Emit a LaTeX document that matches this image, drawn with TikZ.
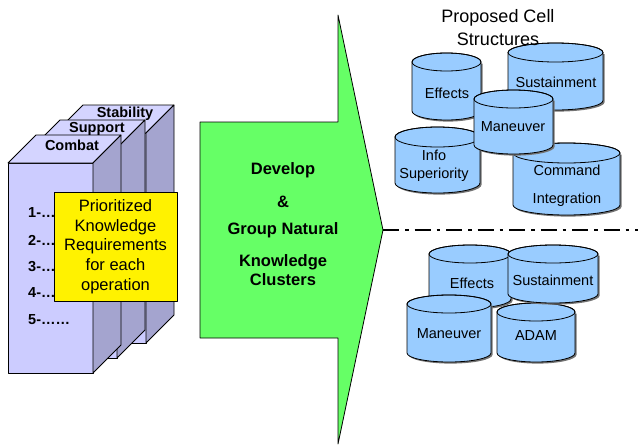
\documentclass[tikz,border=0pt]{standalone}
\usepackage{fontspec}
\setmainfont{Liberation Sans}
\definecolor{slabfront}{HTML}{CCCCFF}
\definecolor{slabtop}{HTML}{D4D4FF}
\definecolor{slabside}{HTML}{A4A4CF}
\definecolor{arrowgreen}{HTML}{66FF66}
\definecolor{drumblue}{HTML}{99CCFF}
\tikzset{
  outline/.style={draw=black, line width=0.8pt, line join=round},
  slablabel/.style={font=\fontsize{14.5}{16}\selectfont\bfseries, inner sep=0pt},
  itemlabel/.style={font=\fontsize{14.5}{16}\selectfont\bfseries, inner sep=0pt, anchor=west},
  greentext/.style={font=\fontsize{16.5}{19}\selectfont\bfseries, align=center, inner sep=0pt},
  drumtext/.style={font=\fontsize{14.5}{17}\selectfont, align=center, inner sep=0pt},
  drumbody/.style={outline, fill=drumblue},
  drumshadow/.style={fill=black!55},
}
% a stacked 3D slab: left, right, top, bottom of the front face
\newcommand{\slab}[4]{%
  \filldraw[outline, fill=slabfront] (#1,#3) rectangle (#2,#4);
  \filldraw[outline, fill=slabtop] (#1,#3) -- ++(28,-28) -- (#2+28,#3-28) -- (#2,#3) -- cycle;
  \filldraw[outline, fill=slabside] (#2,#3) -- ++(28,-28) -- (#2+28,#4-28) -- (#2,#4) -- cycle;
}
% a drum (cylinder): left, right, top, bottom, vertical half-axis of the ellipses
\newcommand{\drum}[5]{%
  \pgfmathsetmacro\drx{(#2-#1)/2}%
  \pgfmathsetmacro\dcx{(#1+#2)/2}%
  \pgfmathsetmacro\dyt{#3+#5}%
  \pgfmathsetmacro\dyb{#4-#5}%
  \fill[drumshadow, shift={(1.6,1.6)}] (#1,\dyt) -- (#1,\dyb)
     arc[start angle=180, end angle=360, x radius=\drx pt, y radius=#5pt] -- (#2,\dyt) -- cycle;
  \filldraw[drumbody] (#1,\dyt) -- (#1,\dyb)
     arc[start angle=180, end angle=360, x radius=\drx pt, y radius=#5pt] -- (#2,\dyt)
     arc[start angle=0, end angle=180, x radius=\drx pt, y radius=#5pt] -- cycle;
  \draw[outline] (\dcx,\dyt) ellipse[x radius=\drx pt, y radius=#5pt];
}
\begin{document}
\begin{tikzpicture}[x=1pt, y=-1pt]
\useasboundingbox (0,0) rectangle (638,445);

% operation slabs, back to front
\slab{55}{146}{133}{343}
\node[slablabel] (stability) at (125,114) {Stability};
\slab{32}{117}{148}{358}
\node[slablabel] (support) at (97,129) {Support};
\slab{8}{93}{163}{373}
\node[slablabel] (combat) at (72,145) {Combat};

\node[itemlabel] (i1) at (28,213) {1-…};
\node[itemlabel] (i2) at (28,240) {2-…};
\node[itemlabel] (i3) at (28,267) {3-…};
\node[itemlabel] (i4) at (28,293) {4-…};
\node[itemlabel] (i5) at (28,320) {5-……};

\node[outline, fill=yellow, minimum width=123pt, minimum height=109pt, inner sep=0pt,
      align=center, font=\fontsize{16.5}{19.7}\selectfont] (prio) at (115.5,246.5)
  {Prioritized\\Knowledge\\Requirements\\for each\\operation};

% process arrow
\filldraw[outline, fill=arrowgreen] (200,122) -- (338,122) -- (338,15) -- (383,230)
  -- (338,444) -- (338,338) -- (200,338) -- cycle;
\coordinate (tip) at (383,230);
\coordinate (edge) at (638,230);
\node[greentext] (develop) at (283,170) {Develop};
\node[greentext] (amp) at (283,202) {\&};
\node[greentext] (group) at (283,230) {Group Natural};
\node[greentext] (clusters) at (283,270.5) {Knowledge\\Clusters};

% divider
\draw[line width=2.6pt, dash pattern=on 16pt off 6pt on 3.5pt off 6pt] (tip) -- (edge);

% proposed cells, upper group
\drum{412}{481}{53}{120}{9}
\node[drumtext] (effA) at (447,93) {Effects};
\drum{508}{603}{43}{110}{9.5}
\node[drumtext] (susA) at (556,82) {Sustainment};
\drum{395}{480}{127}{193}{10}
\node[drumtext, font=\fontsize{14.5}{18}\selectfont] (infoA) at (434,166) {Info\\Superiority};
\drum{513}{620}{143}{215}{10}
\node[drumtext, font=\fontsize{14.5}{28}\selectfont] (cmdA) at (567,186) {Command\\Integration};
\drum{474}{553}{90}{154}{9}
\node[drumtext] (manA) at (513,127) {Maneuver};

\node[align=center, inner sep=0pt, font=\fontsize{18}{23}\selectfont] (title) at (498,27.5)
  {Proposed Cell\\Structures};

% proposed cells, lower group
\drum{429}{511}{245}{308}{9}
\node[drumtext] (effB) at (472,283) {Effects};
\drum{497}{575}{303}{362}{9}
\node[drumtext] (adamB) at (536,336) {ADAM};
\drum{508}{598}{245}{303}{9}
\node[drumtext] (susB) at (553,280) {Sustainment};
\drum{407}{491}{295}{362}{9}
\node[drumtext] (manB) at (449,334) {Maneuver};
\end{tikzpicture}
\end{document}
